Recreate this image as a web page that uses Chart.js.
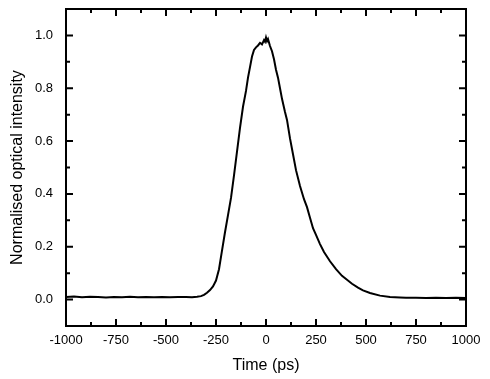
<!DOCTYPE html>
<html>
<head>
<meta charset="utf-8">
<script src="https://cdn.jsdelivr.net/npm/chart.js@4/dist/chart.umd.min.js"></script>
<style>
  html, body { margin: 0; padding: 0; background: #fff; }
  #wrap { width: 490px; height: 379px; position: relative; }
</style>
</head>
<body>
<div id="wrap"><canvas id="c" width="490" height="379"></canvas></div>
<script>
// ---- data ----
const timePs = [
  -1000, -960, -920, -880, -840, -800, -760, -720, -680, -640, -600, -560, -520, -480, -440, -400, -370, -345,
  -325, -310, -295, -280, -265, -250, -235, -220, -205, -190, -175, -160, -145, -130, -115, -100, -90, -80, -70,
  -60, -50, -40, -30, -20, -10, -5, 0, 5, 10, 20, 30, 40, 50, 60, 70, 80, 95, 105, 120, 135, 150, 170, 190, 205,
  220, 235, 250, 270, 290, 320, 350, 380, 405, 430, 460, 485, 520, 570, 620, 670, 700, 750, 800, 850, 900, 950, 1000
];
const intensity = [
  0.010, 0.012, 0.009, 0.011, 0.010, 0.008, 0.010, 0.009, 0.011, 0.009, 0.010, 0.009, 0.010, 0.009, 0.010, 0.010, 0.009, 0.011,
  0.013, 0.018, 0.026, 0.036, 0.050, 0.072, 0.115, 0.185, 0.255, 0.320, 0.385, 0.470, 0.560, 0.650, 0.730, 0.790, 0.840, 0.880, 0.920,
  0.945, 0.955, 0.962, 0.972, 0.966, 0.982, 0.976, 0.992, 0.978, 0.986, 0.960, 0.940, 0.910, 0.870, 0.840, 0.800, 0.760, 0.710, 0.680, 0.610, 0.550, 0.490, 0.430, 0.380, 0.350,
  0.310, 0.270, 0.245, 0.210, 0.180, 0.145, 0.115, 0.090, 0.075, 0.060, 0.045, 0.035, 0.025, 0.015, 0.010, 0.008, 0.007, 0.007, 0.006, 0.007, 0.006, 0.007, 0.006
];
const xTickValues = [-1000, -750, -500, -250, 0, 250, 500, 750, 1000];
const xMinorTicks = [-875, -625, -375, -125, 125, 375, 625, 875];
const yTickValues = [0.0, 0.2, 0.4, 0.6, 0.8, 1.0];
const yMinorTicks = [-0.1, 0.1, 0.3, 0.5, 0.7, 0.9, 1.1];
const xTitle = 'Time (ps)';
const yTitle = 'Normalised optical intensity';

const points = timePs.map((t, i) => ({ x: t, y: intensity[i] }));

const frameTicks = {
  id: 'frameTicks',
  afterDraw(chart) {
    const { ctx, chartArea: a, scales } = chart;
    const xs = scales.x, ys = scales.y;
    ctx.save();
    ctx.strokeStyle = '#000';
    ctx.lineWidth = 2;
    ctx.lineCap = 'butt';
    ctx.beginPath();
    const tick = (len, arr, horiz) => {
      arr.forEach(v => {
        if (horiz) {
          const px = xs.getPixelForValue(v);
          ctx.moveTo(px, a.bottom); ctx.lineTo(px, a.bottom - len);
          ctx.moveTo(px, a.top); ctx.lineTo(px, a.top + len);
        } else {
          const py = ys.getPixelForValue(v);
          ctx.moveTo(a.left, py); ctx.lineTo(a.left + len, py);
          ctx.moveTo(a.right, py); ctx.lineTo(a.right - len, py);
        }
      });
    };
    tick(7, xTickValues, true);
    tick(4, xMinorTicks, true);
    tick(7, yTickValues, false);
    tick(4, yMinorTicks, false);
    ctx.stroke();
    ctx.strokeRect(a.left, a.top, a.right - a.left, a.bottom - a.top);
    ctx.restore();
  }
};

new Chart(document.getElementById('c'), {
  type: 'line',
  data: {
    datasets: [{
      data: points,
      borderColor: '#000',
      borderWidth: 2,
      pointRadius: 0,
      tension: 0,
      fill: false
    }]
  },
  options: {
    responsive: false,
    animation: false,
    devicePixelRatio: 1,
    layout: { padding: { top: 9, right: 24, left: 0, bottom: 0 } },
    plugins: { legend: { display: false }, tooltip: { enabled: false } },
    scales: {
      x: {
        type: 'linear',
        min: -1000, max: 1000,
        afterBuildTicks: s => { s.ticks = xTickValues.map(v => ({ value: v })); },
        afterFit: s => { s.height = 53; s.paddingLeft = 0; s.paddingRight = 0; },
        grid: { display: false, drawTicks: false },
        border: { display: false },
        ticks: {
          color: '#000', padding: 7, maxRotation: 0, autoSkip: false,
          font: { family: 'Liberation Sans, Arial, sans-serif', size: 13 },
          callback: v => String(v)
        },
        title: {
          display: true, text: xTitle, color: '#000',
          font: { family: 'Liberation Sans, Arial, sans-serif', size: 16 },
          padding: { top: 0, bottom: 4 }
        }
      },
      y: {
        type: 'linear',
        min: -0.1, max: 1.1,
        afterBuildTicks: s => { s.ticks = yTickValues.map(v => ({ value: v })); },
        afterFit: s => { s.width = 66; s.paddingTop = 0; s.paddingBottom = 0; },
        grid: { display: false, drawTicks: false },
        border: { display: false },
        ticks: {
          color: '#000', padding: 13, autoSkip: false,
          font: { family: 'Liberation Sans, Arial, sans-serif', size: 13 },
          callback: v => Number(v).toFixed(1)
        },
        title: {
          display: true, text: yTitle, color: '#000',
          font: { family: 'Liberation Sans, Arial, sans-serif', size: 16 },
          padding: { top: 8, bottom: 0 }
        }
      }
    }
  },
  plugins: [frameTicks]
});
</script>
</body>
</html>
